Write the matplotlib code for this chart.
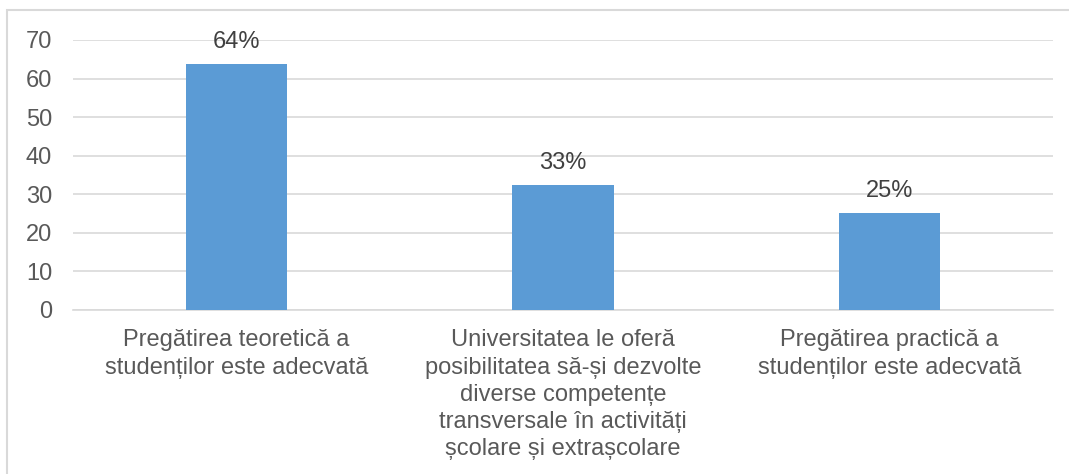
import matplotlib.pyplot as plt
from matplotlib.patches import Rectangle

categories = [
    "Pregătirea teoretică a\nstudenților este adecvată",
    "Universitatea le oferă\nposibilitatea să-și dezvolte\ndiverse competențe\ntransversale în activități\nșcolare și extrașcolare",
    "Pregătirea practică a\nstudenților este adecvată",
]
values = [63.8, 32.4, 25.1]
labels = ["64%", "33%", "25%"]
yticks = [0, 10, 20, 30, 40, 50, 60, 70]

plt.rcParams['font.family'] = ['Liberation Sans', 'DejaVu Sans']
text_color = '#595959'
grid_color = '#D9D9D9'

fig = plt.figure(figsize=(10.69, 4.74), dpi=100)
ax = fig.add_axes([73 / 1069, 1 - 310 / 474, (1053 - 73) / 1069, 270 / 474])

x = range(len(values))
bars = ax.bar(x, values, width=0.31, color='#5B9BD5', zorder=3)

for b, lab in zip(bars, labels):
    ax.annotate(lab, (b.get_x() + b.get_width() / 2, b.get_height()),
                xytext=(0, 8), textcoords='offset points',
                ha='center', va='bottom', fontsize=17, color='#404040')

ax.set_xlim(-0.5, 2.5)
ax.set_ylim(0, 70)
ax.set_yticks(yticks)
ax.set_xticks(list(x))
ax.set_xticklabels(categories, fontsize=17, color=text_color, linespacing=1.3)
ax.tick_params(axis='y', labelsize=17, labelcolor=text_color, length=0, pad=15)
ax.tick_params(axis='x', length=0, pad=14)
ax.grid(axis='y', color=grid_color, linewidth=1.2, zorder=0)
for s in ['top', 'right', 'left']:
    ax.spines[s].set_visible(False)
ax.spines['bottom'].set_color(grid_color)
ax.spines['bottom'].set_linewidth(1.2)

fig.patches.append(Rectangle((7 / 1069, -0.1), 1.2, 1 - 10 / 474 + 0.1,
                             transform=fig.transFigure, fill=False,
                             edgecolor=grid_color, linewidth=1.5))

fig.savefig('out.png', dpi=100)
